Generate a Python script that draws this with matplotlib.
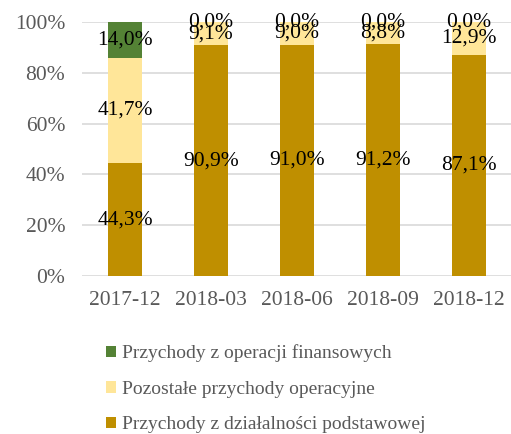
import numpy as np
import matplotlib.pyplot as plt
from matplotlib.patches import Patch

plt.rcParams["font.family"] = ["Liberation Serif", "DejaVu Serif"]

# Revenue structure per quarter (% of total)
periods = ["2017-12", "2018-03", "2018-06", "2018-09", "2018-12"]
core = [44.3, 90.9, 91.0, 91.2, 87.1]
other_op = [41.7, 9.1, 9.0, 8.8, 12.9]
financial = [14.0, 0.0, 0.0, 0.0, 0.0]

series = [
    ("Przychody z działalności podstawowej", core, "#BF8F00"),
    ("Pozostałe przychody operacyjne", other_op, "#FFE699"),
    ("Przychody z operacji finansowych", financial, "#548235"),
]

fig = plt.figure(figsize=(5.11, 4.34), dpi=100)
ax = fig.add_axes([82 / 511, 1 - 276 / 434, 430 / 511, 254 / 434])

x = np.arange(len(periods))
bottom = np.zeros(len(periods))
for name, vals, color in series:
    vals = np.array(vals)
    ax.bar(x, vals, width=0.4, bottom=bottom, color=color, zorder=2)
    for xi, b, v in zip(x, bottom, vals):
        ax.text(xi, b + v / 2, f"{v:.1f}%".replace(".", ","),
                ha="center", va="center", fontsize=15.5, color="black", zorder=3)
    bottom += vals

ax.set_xlim(-0.5, len(periods) - 0.5)
ax.set_ylim(0, 100)
ax.set_yticks(np.arange(0, 101, 20))
ax.set_yticklabels([f"{t}%" for t in range(0, 101, 20)])
ax.set_xticks(x)
ax.set_xticklabels(periods)
ax.tick_params(axis="both", length=0, labelsize=15.5, colors="#595959")
ax.tick_params(axis="x", pad=11)
ax.tick_params(axis="y", pad=12)
ax.grid(axis="y", color="#D9D9D9", linewidth=1.2, zorder=0)
for s in ax.spines.values():
    s.set_visible(False)

handles = [Patch(facecolor=c, label=n) for n, _, c in reversed(series)]
fig.legend(handles=handles, loc="upper left", bbox_to_anchor=(88 / 511, 1 - 327 / 434),
           frameon=False, fontsize=14, labelcolor="#595959",
           handlelength=0.55, handleheight=0.55, handletextpad=0.3, labelspacing=0.95)

fig.savefig("out.png", dpi=100)
